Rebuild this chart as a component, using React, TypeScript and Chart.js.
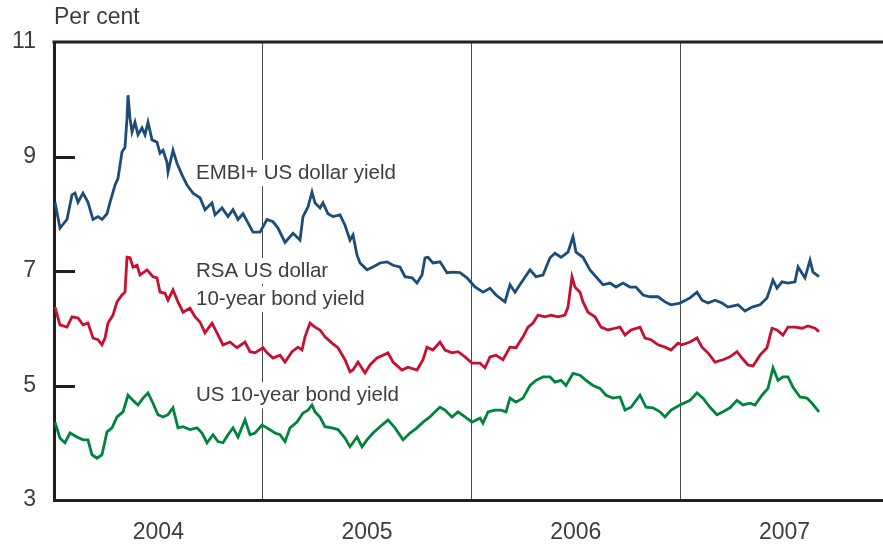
import React, { useEffect, useRef } from "react";
import { Chart, registerables } from "chart.js";

Chart.register(...registerables);

// x values are weeks since 1 January 2004
const yearLabels = ["2004", "2005", "2006", "2007"];
const WEEKS_PER_YEAR = 52.18;
const X_MAX_WEEKS = 207.25;
const yTickValues = [3, 5, 7, 9, 11];
const yInnerTicks = [5, 7, 9];

const embiYield: [number, number][] = [
  [0.25, 8.2], [1.5, 7.75], [3.25, 7.9], [4.5, 8.33], [5.25, 8.36], [6, 8.2], [7.25, 8.36], [8.5, 8.2], [9.75, 7.9], [11, 7.95],
  [12, 7.9], [13.25, 8.0], [14, 8.2], [15.25, 8.5], [16, 8.62], [17, 9.08], [17.75, 9.16], [18.25, 9.67], [18.5, 10.07], [19, 9.67],
  [19.5, 9.43], [20.25, 9.6], [21, 9.38], [22, 9.5], [22.75, 9.38], [23.5, 9.6], [24.5, 9.29], [25.75, 9.25], [26.5, 9.06], [27.25, 9.11],
  [28.25, 8.9], [28.5, 8.73], [29.75, 9.11], [30.75, 8.88], [32, 8.68], [33.25, 8.5], [34.75, 8.36], [36.5, 8.28], [37.75, 8.07], [39.5, 8.19],
  [40.25, 7.98], [42, 8.1], [43.5, 7.95], [44.75, 8.07], [46, 7.9], [47.25, 8.0], [48.5, 7.84], [49.75, 7.68], [51.5, 7.68], [53.25, 7.9],
  [54.75, 7.86], [56, 7.75], [57.75, 7.5], [59.75, 7.66], [61.5, 7.54], [62.25, 7.95], [63.5, 8.12], [64.5, 8.38], [65.25, 8.19], [66.5, 8.1],
  [67.25, 8.19], [68.5, 8.0], [69.75, 7.95], [71.5, 7.98], [72.75, 7.8], [74, 7.54], [74.75, 7.63], [75.75, 7.28], [76.5, 7.14], [78.25, 7.02],
  [79.75, 7.07], [81.5, 7.14], [83.25, 7.16], [84.75, 7.1], [86.5, 7.07], [87.75, 6.9], [89.5, 6.88], [90.75, 6.79], [92, 6.93], [92.75, 7.23],
  [93.5, 7.24], [94.75, 7.14], [96.5, 7.16], [98.25, 6.97], [99.75, 6.98], [101.5, 6.97], [103.25, 6.88], [104.75, 6.76], [105.25, 6.72], [107.25, 6.63],
  [109, 6.7], [110.5, 6.58], [112.75, 6.46], [114, 6.76], [115.25, 6.63], [116.75, 6.79], [119, 7.02], [120.5, 6.9], [122.25, 6.93], [124, 7.23],
  [125.25, 7.31], [126.75, 7.24], [128.5, 7.33], [129.75, 7.6], [130.5, 7.33], [132.25, 7.24], [134, 7.02], [135.5, 6.9], [137.25, 6.76], [139, 6.79],
  [140.5, 6.72], [142.25, 6.79], [144, 6.72], [145.5, 6.72], [147.25, 6.58], [149, 6.55], [151, 6.55], [152.75, 6.46], [154.25, 6.41], [156.5, 6.44],
  [159, 6.53], [160.75, 6.63], [162, 6.49], [163.5, 6.44], [165.25, 6.49], [167, 6.44], [168.5, 6.37], [171, 6.41], [172.75, 6.3], [174.5, 6.37],
  [176.5, 6.41], [178.25, 6.53], [179.75, 6.84], [180.75, 6.7], [182, 6.81], [183.5, 6.79], [185.25, 6.81], [186, 7.07], [187.75, 6.88], [189, 7.19],
  [189.75, 6.98], [191.25, 6.9],
];

const rsaYield: [number, number][] = [
  [0.25, 6.37], [1.5, 6.06], [3.25, 6.02], [4.5, 6.2], [6, 6.18], [7.25, 6.06], [8.5, 6.09], [9.75, 5.83], [11, 5.8], [12, 5.71],
  [12.75, 5.83], [13.5, 6.09], [14.75, 6.23], [15.75, 6.46], [17, 6.58], [17.75, 6.63], [18.25, 7.24], [19, 7.23], [19.75, 7.07], [20.75, 7.1],
  [21.5, 6.93], [23.25, 7.02], [24.75, 6.9], [25.75, 6.88], [26.5, 6.63], [27.75, 6.61], [28.5, 6.49], [29.75, 6.67], [31, 6.46], [32.25, 6.28],
  [34, 6.35], [35.25, 6.2], [36.5, 6.11], [37.75, 5.92], [39.5, 6.09], [40.75, 5.92], [42.25, 5.71], [44, 5.76], [45.75, 5.66], [47.75, 5.76],
  [49, 5.59], [50.25, 5.57], [52.25, 5.66], [53.25, 5.57], [54.75, 5.48], [56.5, 5.53], [57.75, 5.41], [59.5, 5.59], [61, 5.67], [62, 5.62],
  [62.75, 5.85], [64, 6.09], [65.25, 6.02], [66.5, 5.97], [67.75, 5.85], [69.5, 5.74], [71, 5.66], [72.75, 5.45], [74, 5.24], [74.75, 5.27],
  [76, 5.41], [77.75, 5.22], [79, 5.36], [80.75, 5.48], [82.25, 5.53], [83.5, 5.57], [84.75, 5.41], [87, 5.27], [88.5, 5.32], [90.75, 5.27],
  [92.25, 5.45], [93.25, 5.67], [94.75, 5.62], [96.5, 5.76], [97.75, 5.62], [99.5, 5.57], [101, 5.59], [102.75, 5.5], [104.5, 5.39], [106.5, 5.39],
  [107.75, 5.31], [109, 5.5], [110.5, 5.53], [112.25, 5.45], [114, 5.67], [115.5, 5.66], [117.25, 5.85], [118.5, 6.02], [119.75, 6.09], [121, 6.23],
  [122.75, 6.2], [124.25, 6.23], [126, 6.2], [127.75, 6.23], [128.5, 6.37], [129.5, 6.9], [130.25, 6.72], [131.5, 6.63], [132.25, 6.46], [133.5, 6.28],
  [135.25, 6.2], [136.75, 6.02], [138.5, 5.97], [140.25, 6.0], [141.5, 6.02], [142.75, 5.88], [144.25, 5.97], [146.5, 6.02], [147.75, 5.83], [149.25, 5.8],
  [151, 5.71], [152.75, 5.67], [154.25, 5.62], [156, 5.74], [157, 5.71], [159, 5.76], [160.75, 5.83], [162, 5.67], [163.5, 5.57], [165.25, 5.41],
  [167.25, 5.45], [169, 5.5], [170.75, 5.59], [172, 5.48], [173.5, 5.36], [174.75, 5.34], [176.5, 5.53], [178.25, 5.66], [179.5, 6.0], [180.75, 5.97],
  [182.25, 5.88], [183.5, 6.02], [185.25, 6.02], [187, 6.0], [188.5, 6.04], [190.25, 6.0], [191.25, 5.94],
];

const usYield: [number, number][] = [
  [0.25, 4.36], [1.5, 4.08], [2.75, 4.0], [4, 4.17], [5.75, 4.1], [7.25, 4.05], [8.5, 4.05], [9.5, 3.79], [10.75, 3.73], [12, 3.79],
  [13.25, 4.19], [14.5, 4.26], [15.75, 4.45], [17.25, 4.54], [18.5, 4.83], [19.75, 4.74], [21, 4.66], [22.25, 4.78], [23.5, 4.87], [24.75, 4.69],
  [26, 4.49], [27.25, 4.45], [28.5, 4.49], [29.75, 4.61], [31, 4.26], [32.25, 4.28], [34, 4.23], [35.75, 4.26], [37, 4.17], [38.25, 4.0],
  [39.75, 4.14], [41, 4.02], [42.25, 4.0], [43.5, 4.14], [44.75, 4.26], [46, 4.1], [47.75, 4.4], [49, 4.14], [50.25, 4.17], [52, 4.31],
  [53.25, 4.26], [55.25, 4.17], [56.5, 4.14], [57.75, 4.02], [59, 4.26], [60.75, 4.36], [62.25, 4.52], [63.5, 4.57], [64.5, 4.66], [65.25, 4.54],
  [66.5, 4.45], [67.75, 4.28], [69.5, 4.26], [71, 4.23], [72.75, 4.08], [74, 3.93], [75.75, 4.1], [77, 3.93], [78.25, 4.05], [79.75, 4.17],
  [81.5, 4.28], [83.5, 4.4], [85.25, 4.26], [87.25, 4.05], [89, 4.17], [90.75, 4.26], [92.25, 4.36], [94, 4.45], [95.25, 4.54], [96.5, 4.62],
  [97.75, 4.57], [99.5, 4.45], [101, 4.54], [102.75, 4.45], [104.5, 4.36], [106.5, 4.43], [107.25, 4.34], [108.5, 4.54], [110.25, 4.57], [111.75, 4.57],
  [113, 4.54], [114, 4.78], [115.5, 4.71], [117.25, 4.78], [119, 5.0], [120.5, 5.09], [122.25, 5.15], [124, 5.15], [125.25, 5.06], [126.75, 5.09],
  [128, 5.0], [129.75, 5.21], [131.5, 5.18], [133, 5.09], [134.75, 5.0], [136.5, 4.95], [138, 4.83], [139.75, 4.78], [141.5, 4.8], [142.75, 4.57],
  [144.25, 4.62], [146.5, 4.83], [148, 4.62], [149.75, 4.61], [151.5, 4.54], [152.75, 4.45], [154.25, 4.57], [156.5, 4.66], [159, 4.74], [160.75, 4.87],
  [162.25, 4.78], [164, 4.62], [165.75, 4.49], [167.25, 4.54], [169, 4.61], [170.75, 4.74], [172.25, 4.66], [174, 4.69], [175.25, 4.66], [177, 4.83],
  [178.5, 4.95], [179.75, 5.31], [181, 5.09], [182.25, 5.15], [183.5, 5.15], [184.75, 4.97], [186.5, 4.8], [188.25, 4.78], [189.5, 4.69], [191.25, 4.54],
];

const seriesNames = ["EMBI+ US dollar yield", "RSA US dollar 10-year bond yield", "US 10-year bond yield"];
const labelLines: string[][] = [["EMBI+ US dollar yield"], ["RSA US dollar", "10-year bond yield"], ["US 10-year bond yield"]];
const labelAnchors: { x: number; y: number }[] = [
  { x: 35.5, y: 8.71 },
  { x: 35.5, y: 7.0 },
  { x: 35.5, y: 4.83 },
];
const yAxisTitle = "Per cent";

const FONT = '"Liberation Sans", Arial, Helvetica, sans-serif';
const TEXT = "#3d3d3d";
const AXIS = "#231f20";
const colors = ["#1b4d78", "#c8102e", "#00843d"];

const boundaries = [1, 2, 3].map((i) => i * WEEKS_PER_YEAR);
const midYears = yearLabels.map((_, i) => (i + 0.5) * WEEKS_PER_YEAR);
const isBoundary = (v: number) => boundaries.some((b) => Math.abs(b - v) < 1e-6);

const decorPlugin = {
  id: "decor",
  beforeDatasetsDraw(chart: any) {
    const { ctx, scales } = chart;
    const x = scales.x;
    const y = scales.y;
    ctx.save();
    ctx.font = `20.5px ${FONT}`;
    ctx.textBaseline = "middle";
    ctx.textAlign = "left";
    const lineGap = 28;
    labelLines.forEach((lines, i) => {
      const px = x.getPixelForValue(labelAnchors[i].x);
      const py = y.getPixelForValue(labelAnchors[i].y);
      lines.forEach((t, j) => {
        const ty = py + j * lineGap;
        const w = ctx.measureText(t).width;
        ctx.fillStyle = "#ffffff";
        ctx.fillRect(px - 3, ty - 13, w + 6, 26);
        ctx.fillStyle = TEXT;
        ctx.fillText(t, px, ty);
      });
    });
    ctx.restore();
  },
  afterDraw(chart: any) {
    const { ctx, chartArea: a, scales } = chart;
    const y = scales.y;
    ctx.save();
    ctx.strokeStyle = AXIS;
    ctx.lineWidth = 3;
    ctx.beginPath();
    ctx.moveTo(a.left - 1.5, a.top);
    ctx.lineTo(a.right, a.top);
    yInnerTicks.forEach((v) => {
      const py = Math.round(y.getPixelForValue(v)) + 0.5;
      ctx.moveTo(a.left, py);
      ctx.lineTo(a.left + 21, py);
    });
    ctx.stroke();
    ctx.fillStyle = TEXT;
    ctx.font = `23px ${FONT}`;
    ctx.textBaseline = "middle";
    ctx.textAlign = "left";
    ctx.fillText(yAxisTitle, a.left, 18);
    ctx.restore();
  },
};

export default function App() {
  const canvasRef = useRef<HTMLCanvasElement | null>(null);

  useEffect(() => {
    if (!canvasRef.current) return;
    const series = [embiYield, rsaYield, usYield];
    const chart = new Chart(canvasRef.current, {
      type: "line",
      data: {
        datasets: series.map((s, i) => ({
          label: seriesNames[i],
          data: s.map(([wx, v]) => ({ x: wx, y: v })),
          borderColor: colors[i],
          borderWidth: 2.8,
          pointRadius: 0,
          tension: 0,
          fill: false,
        })),
      },
      options: {
        animation: false,
        responsive: true,
        maintainAspectRatio: false,
        layout: { padding: { top: 42, right: 0, left: 0, bottom: 0 } },
        plugins: {
          legend: { display: false },
          tooltip: { enabled: false },
          title: { display: false },
        },
        scales: {
          x: {
            type: "linear",
            min: 0,
            max: X_MAX_WEEKS,
            afterBuildTicks: (s: any) => {
              s.ticks = [...midYears, ...boundaries].sort((a, b) => a - b).map((v) => ({ value: v }));
            },
            afterFit: (s: any) => {
              s.height = 44;
            },
            grid: {
              color: (c: any) => (c.tick && isBoundary(c.tick.value) ? "#4a4a4a" : "rgba(0,0,0,0)"),
              lineWidth: 1,
              drawTicks: false,
            },
            border: { display: true, color: AXIS, width: 3 },
            ticks: {
              autoSkip: false,
              maxRotation: 0,
              padding: 19,
              color: TEXT,
              font: { family: FONT, size: 23 },
              callback: (v: any) => {
                const idx = midYears.findIndex((m) => Math.abs(m - Number(v)) < 1e-6);
                return idx >= 0 ? yearLabels[idx] : "";
              },
            },
          },
          y: {
            min: 3,
            max: 11,
            afterBuildTicks: (s: any) => {
              s.ticks = yTickValues.map((v) => ({ value: v }));
            },
            afterFit: (s: any) => {
              s.width = 54;
            },
            grid: { display: false, drawTicks: false },
            border: { display: true, color: AXIS, width: 3 },
            ticks: {
              padding: 18,
              color: TEXT,
              font: { family: FONT, size: 23 },
              callback: (v: any) => String(v),
            },
          },
        },
      },
      plugins: [decorPlugin],
    });
    return () => chart.destroy();
  }, []);

  return (
    <div style={{ position: "fixed", left: 0, top: 0, width: 883, height: 544, background: "#fff" }}>
      <canvas ref={canvasRef} />
    </div>
  );
}
